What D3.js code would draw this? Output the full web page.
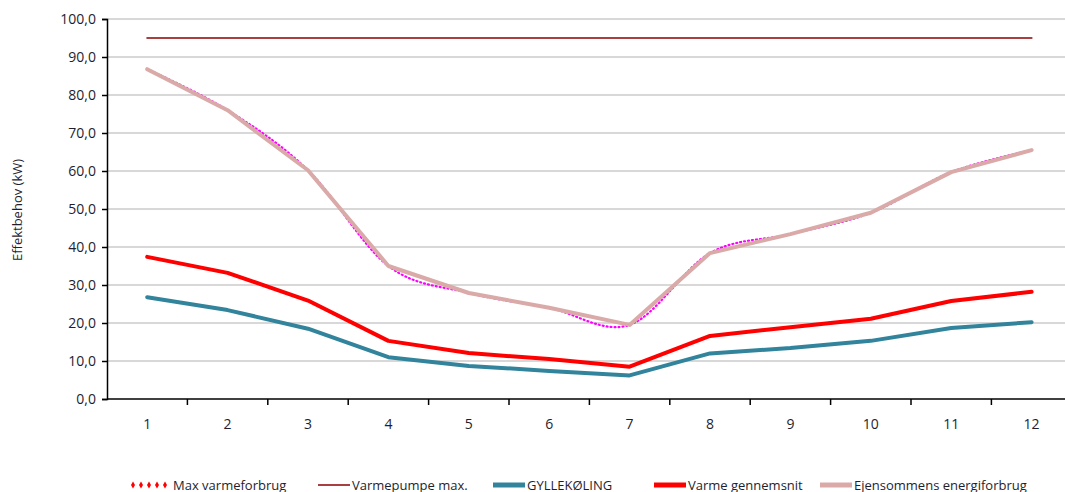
<!doctype html>
<html>
<head>
	<meta charset="UTF-8">
	<title>Effektbehov</title>
	<style>
		body { margin: 0; background: #fff; }
		#container { font-size: 0; }
		text { font-family: "Open Sans", "Noto Sans", sans-serif; fill: #1e1e2e; }
	</style>
</head>
<body>
<div id="container"></div>
<script src="https://cdn.jsdelivr.net/npm/d3@7/dist/d3.min.js"></script>
<script>
	var w = 1065;
	var h = 492;

	var months = ["1", "2", "3", "4", "5", "6", "7", "8", "9", "10", "11", "12"];
	var maxVarme = [86.8, 76.0, 60.2, 35.0, 27.9, 24.0, 19.5, 38.4, 43.4, 49.0, 59.7, 65.5];
	var varmepumpe = [95, 95, 95, 95, 95, 95, 95, 95, 95, 95, 95, 95];
	var gylle = [26.8, 23.4, 18.5, 11.0, 8.7, 7.4, 6.2, 12.0, 13.4, 15.3, 18.7, 20.2];
	var varmeSnit = [37.4, 33.2, 25.9, 15.3, 12.1, 10.5, 8.5, 16.6, 18.9, 21.1, 25.8, 28.2];
	var ejensommens = [86.8, 76.0, 60.2, 35.0, 27.9, 24.0, 19.5, 38.4, 43.4, 49.0, 59.7, 65.5];
	var yTicks = [0, 10, 20, 30, 40, 50, 60, 70, 80, 90, 100];

	var series = [
		{name: "Max varmeforbrug", values: maxVarme, color: "#ff00ff", width: 2.2, dash: "1,3", curve: d3.curveCardinal.tension(0), legend: "dots"},
		{name: "Varmepumpe max.", values: varmepumpe, color: "#a8403f", width: 2, dash: null, curve: d3.curveLinear, legend: "line"},
		{name: "GYLLEKØLING", values: gylle, color: "#31849b", width: 4, dash: null, curve: d3.curveLinear, legend: "line"},
		{name: "Varme gennemsnit", values: varmeSnit, color: "#ff0000", width: 4, dash: null, curve: d3.curveLinear, legend: "line"},
		{name: "Ejensommens energiforbrug", values: ejensommens, color: "#d9aaa8", width: 4, dash: null, curve: d3.curveLinear, legend: "line"}
	];
	var legendX = [130, 318, 493, 654, 820];

	var plotLeft = 107, plotTop = 19, plotBottom = 399, step = 80.4;
	var plotRight = plotLeft + step * months.length;

	var xScale = d3.scaleBand()
			.domain(months)
			.range([plotLeft, plotRight]);
	var yScale = d3.scaleLinear()
			.domain([0, 100])
			.range([plotBottom, plotTop]);

	var svg = d3.select("#container")
			.append("svg")
			.attr("width", w)
			.attr("height", h);

	// gridlines
	svg.append("g")
			.selectAll("line")
			.data(yTicks.filter(function (d) { return d > 0; }))
			.enter()
			.append("line")
			.attr("x1", plotLeft)
			.attr("x2", plotRight)
			.attr("y1", function (d) { return yScale(d); })
			.attr("y2", function (d) { return yScale(d); })
			.attr("stroke", "#cbcbcb")
			.attr("stroke-width", 1.5);

	// y axis
	var yAxis = svg.append("g")
			.attr("transform", "translate(" + plotLeft + ",0)")
			.call(d3.axisLeft(yScale).tickValues(yTicks).tickSize(5).tickPadding(6)
					.tickFormat(function (d) { return d3.format(".1f")(d).replace(".", ","); }));
	yAxis.attr("font-family", null).attr("font-size", null);
	yAxis.selectAll("text").attr("font-size", 14).attr("fill", null);
	yAxis.select(".domain").attr("stroke", "#000").attr("stroke-width", 1.5);
	yAxis.selectAll(".tick line").attr("stroke", "#000").attr("stroke-width", 1.5);

	// x axis, ticks between categories
	var xAxis = svg.append("g")
			.attr("transform", "translate(0," + plotBottom + ")");
	xAxis.append("line")
			.attr("x1", plotLeft)
			.attr("x2", w)
			.attr("stroke", "#000")
			.attr("stroke-width", 1.5);
	xAxis.selectAll(".xt")
			.data(months)
			.enter()
			.append("line")
			.attr("x1", function (d) { return xScale(d) + xScale.bandwidth(); })
			.attr("x2", function (d) { return xScale(d) + xScale.bandwidth(); })
			.attr("y1", 0)
			.attr("y2", 6)
			.attr("stroke", "#000")
			.attr("stroke-width", 1.5);
	xAxis.selectAll("text")
			.data(months)
			.enter()
			.append("text")
			.attr("x", function (d) { return xScale(d) + xScale.bandwidth() / 2; })
			.attr("y", 30)
			.attr("text-anchor", "middle")
			.attr("font-size", 14)
			.text(function (d) { return d; });

	// y axis title
	svg.append("text")
			.attr("transform", "translate(22,210) rotate(-90)")
			.attr("text-anchor", "middle")
			.attr("font-size", 13)
			.text("Effektbehov (kW)");

	// series lines
	series.forEach(function (s) {
		var line = d3.line()
				.x(function (d, i) { return xScale(months[i]) + xScale.bandwidth() / 2; })
				.y(function (d) { return yScale(d); })
				.curve(s.curve);
		svg.append("path")
				.datum(s.values)
				.attr("d", line)
				.attr("fill", "none")
				.attr("stroke", s.color)
				.attr("stroke-width", s.width)
				.attr("stroke-linecap", "round")
				.attr("stroke-linejoin", "round")
				.attr("stroke-dasharray", s.dash);
	});

	// legend
	var legend = svg.append("g").attr("transform", "translate(0,485)");
	series.forEach(function (s, i) {
		var g = legend.append("g").attr("transform", "translate(" + legendX[i] + ",0)");
		if (s.legend === "dots") {
			g.selectAll("path")
					.data([0, 1, 2, 3, 4])
					.enter()
					.append("path")
					.attr("d", d3.symbol(d3.symbolDiamond, 14))
					.attr("transform", function (d) { return "translate(" + (3 + d * 8) + ",0)"; })
					.attr("fill", "#ff0000");
		} else {
			g.append("line")
					.attr("x1", 0)
					.attr("x2", 32)
					.attr("stroke", s.color)
					.attr("stroke-width", s.width === 4 ? 5 : s.width);
		}
		g.append("text")
				.attr("x", s.legend === "dots" ? 43 : 34)
				.attr("y", 4.5)
				.attr("font-size", 13)
				.text(s.name);
	});
</script>
</body>
</html>
